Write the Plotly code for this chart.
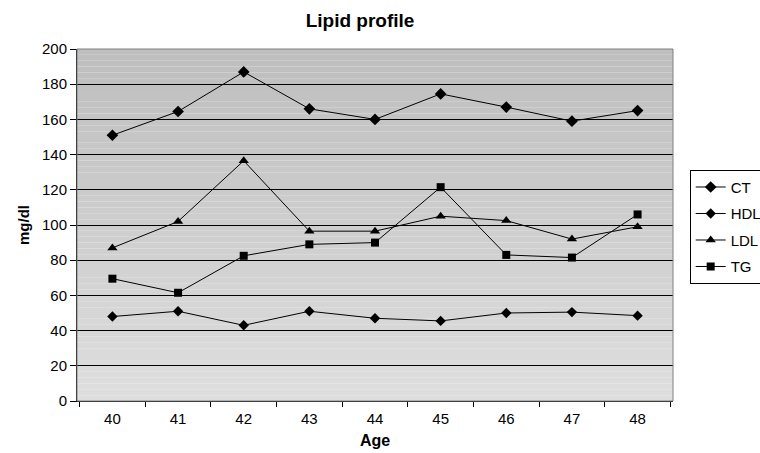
import plotly.graph_objects as go

ages = ["40", "41", "42", "43", "44", "45", "46", "47", "48"]
ct = [151, 164.5, 187, 166, 160, 174.5, 167, 159, 165]
hdl = [48, 51, 43, 51, 47, 45.5, 50, 50.5, 48.5]
ldl = [87, 102, 136.5, 96.5, 96.5, 105, 102.5, 92, 99]
tg = [69.5, 61.5, 82.5, 89, 90, 121.5, 83, 81.5, 106]

series = [
    ("CT", ct, "diamond", 9),
    ("HDL", hdl, "diamond", 8),
    ("LDL", ldl, "triangle-up", 9),
    ("TG", tg, "square", 8),
]

fig = go.Figure()
for name, vals, sym, sz in series:
    fig.add_trace(go.Scatter(
        x=ages, y=vals, name=name, mode="lines+markers", legendgroup=name,
        line=dict(color="black", width=1),
        marker=dict(symbol=sym, size=sz, color="black"),
    ))

# gradient background bands
shapes = []
n = 60
top = (190, 190, 190)
bot = (222, 222, 222)
for i in range(n):
    t = i / (n - 1)
    c = tuple(int(round(top[k] + (bot[k] - top[k]) * t)) for k in range(3))
    shapes.append(dict(
        type="rect", xref="x domain", yref="y domain", layer="below",
        x0=0, x1=1, y0=1 - (i + 1) / n, y1=1 - i / n,
        fillcolor="rgb(%d,%d,%d)" % c, line=dict(width=0),
    ))
shapes.append(dict(type="rect", xref="x domain", yref="y domain", layer="above",
                   x0=0, x1=1, y0=0, y1=1, line=dict(color="#808080", width=1)))

font = "Liberation Sans, Arial, sans-serif"
fig.update_layout(
    width=760, height=453,
    margin=dict(l=77, r=87, t=49, b=52, autoexpand=False),
    paper_bgcolor="white", plot_bgcolor="rgba(0,0,0,0)",
    shapes=shapes,
    title=dict(text="<b>Lipid profile</b>", x=360 / 760, xanchor="center",
               y=1 - 20 / 453, yanchor="middle",
               font=dict(family=font, size=19, color="black")),
    font=dict(family=font, size=15, color="black"),
    showlegend=True,
    legend=dict(x=1.028, y=0.657, xanchor="left", yanchor="top",
                bordercolor="black", borderwidth=1, bgcolor="white",
                font=dict(family=font, size=15, color="black"),
                traceorder="grouped", tracegroupgap=4, itemwidth=30),
    xaxis=dict(type="category", showgrid=False, showline=True, linecolor="black",
               ticks="outside", tickson="boundaries", ticklen=5, tickcolor="black",
               tickfont=dict(size=15), ticklabelstandoff=4,
               title=dict(text="<b>Age</b>", font=dict(family=font, size=16), standoff=8),
               zeroline=False),
    yaxis=dict(range=[0, 200], dtick=20, showgrid=True, gridcolor="black", gridwidth=1,
               showline=True, linecolor="black", ticks="outside", ticklen=6,
               tickcolor="black", zeroline=False, tickfont=dict(size=15),
               title=dict(text="<b>mg/dl</b>", font=dict(family=font, size=15), standoff=8)),
)

fig.write_html("out.html", config={"displayModeBar": False},
               post_script="document.body.style.margin='0px';")
